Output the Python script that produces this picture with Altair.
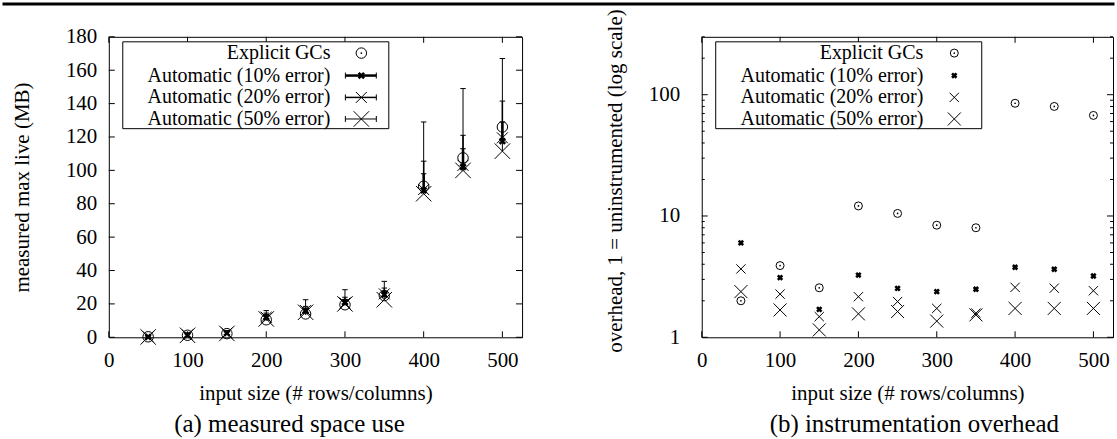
import altair as alt
import pandas as pd

# ---------------- data ----------------
sizes = [50, 100, 150, 200, 250, 300, 350, 400, 450, 500]
x_tick_values = [0, 100, 200, 300, 400, 500]
space_tick_values = [0, 20, 40, 60, 80, 100, 120, 140, 160, 180]
overhead_tick_values = [1, 10, 100]
overhead_minor_values = [2, 3, 4, 5, 6, 7, 8, 9, 20, 30, 40, 50, 60, 70, 80, 90, 200, 300]

series_names = ["Explicit GCs", "Automatic (10% error)", "Automatic (20% error)", "Automatic (50% error)"]

# (a) measured max live (MB)
space_explicit = [0.3, 1.2, 2.2, 10.5, 14.0, 19.5, 25.0, 90.5, 107.5, 126.0]
space_auto10 = [0.3, 1.3, 2.5, 12.0, 16.0, 21.0, 25.5, 88.0, 102.0, 117.5]
space_auto10_top = [0.6, 1.8, 3.2, 13.0, 17.0, 22.5, 27.5, 98.0, 113.0, 129.0]
space_auto20 = [0.3, 1.3, 2.5, 12.0, 16.0, 20.5, 26.0, 88.5, 103.0, 119.5]
space_auto20_top = [0.8, 2.0, 3.5, 14.5, 18.5, 24.0, 29.5, 105.5, 121.0, 141.5]
space_auto50 = [0.2, 1.2, 2.3, 11.0, 15.0, 20.0, 22.5, 86.0, 100.0, 111.5]
space_auto50_top = [1.0, 2.5, 4.0, 16.0, 22.5, 28.5, 33.5, 129.0, 149.0, 167.0]

# (b) instrumentation overhead (log scale)
over_explicit = [2.0, 3.9, 2.56, 12.1, 10.5, 8.4, 8.0, 85.0, 80.0, 67.5]
over_auto10 = [6.0, 3.1, 1.70, 3.26, 2.53, 2.38, 2.49, 3.78, 3.64, 3.2]
over_auto20 = [3.66, 2.27, 1.48, 2.16, 1.97, 1.73, 1.58, 2.58, 2.54, 2.42]
over_auto50 = [2.38, 1.68, 1.15, 1.56, 1.63, 1.36, 1.53, 1.73, 1.73, 1.73]

FONT = "Liberation Serif"
XSHAPE = "M-1,-1L1,1M-1,1L1,-1"
HCAP = "M-1,0L1,0"
one = pd.DataFrame({"k": [0]})


def make_panel(W, H, yscale, y_title, y_ticks, y_minor, explicit, autos, tops,
               msize, label_pad_y, title_x, title_y, caption, cap_x, legend_bars, top_rule):
    xscale = alt.Scale(domain=[0, 525], nice=False, zero=False)
    xaxis = alt.Axis(values=x_tick_values, title="input size (# rows/columns)",
                     titleY=56, titleBaseline="middle", labelPadding=12, format="d")
    yaxis = alt.Axis(values=y_ticks, title=y_title, titleX=title_x, titleY=title_y,
                     titleBaseline="middle", labelPadding=label_pad_y, format="d")

    def X(f="x"):
        return alt.X(f"{f}:Q", scale=xscale, axis=xaxis)

    def Y(f="y"):
        return alt.Y(f"{f}:Q", scale=yscale, axis=yaxis)

    layers = []
    # inward ticks
    xt = pd.DataFrame({"x": x_tick_values})
    yt = pd.DataFrame({"y": y_ticks})
    layers.append(alt.Chart(xt).mark_rule(color="black").encode(x=X(), y=alt.value(H), y2=alt.value(H - 6)))
    layers.append(alt.Chart(xt).mark_rule(color="black").encode(x=X(), y=alt.value(0), y2=alt.value(6)))
    layers.append(alt.Chart(yt).mark_rule(color="black").encode(y=Y(), x=alt.value(0), x2=alt.value(6)))
    layers.append(alt.Chart(yt).mark_rule(color="black").encode(y=Y(), x=alt.value(W), x2=alt.value(W - 6)))
    if y_minor:
        ym = pd.DataFrame({"y": y_minor})
        layers.append(alt.Chart(ym).mark_rule(color="black").encode(y=Y(), x=alt.value(0), x2=alt.value(3)))
        layers.append(alt.Chart(ym).mark_rule(color="black").encode(y=Y(), x=alt.value(W), x2=alt.value(W - 3)))

    # error bars
    bar_widths = [2.5, 1.5, 1.0]
    if tops is not None:
        for vals, top, sw in zip(autos, tops, bar_widths):
            d = pd.DataFrame({"x": sizes, "y": vals, "hi": top})
            layers.append(alt.Chart(d).mark_rule(color="black", strokeWidth=sw).encode(x=X(), y=Y(), y2="hi:Q"))
            layers.append(alt.Chart(d).mark_point(shape=HCAP, size=30, strokeWidth=1, color="black",
                                                  opacity=1).encode(x=X(), y=Y("hi")))

    # markers
    de = pd.DataFrame({"x": sizes, "y": explicit})
    layers.append(alt.Chart(de).mark_point(shape="circle", size=msize["circle"], strokeWidth=1,
                                           color="black", opacity=1).encode(x=X(), y=Y()))
    layers.append(alt.Chart(de).mark_point(shape="circle", size=3, filled=True,
                                           color="black", opacity=1).encode(x=X(), y=Y()))
    shape_cfg = [("star", 2.6), ("mid", 1.0), ("big", 1.0)]
    for vals, (key, sw) in zip(autos, shape_cfg):
        d = pd.DataFrame({"x": sizes, "y": vals})
        layers.append(alt.Chart(d).mark_point(shape=XSHAPE, size=msize[key], strokeWidth=sw,
                                              color="black", opacity=1).encode(x=X(), y=Y()))

    # legend
    layers.append(alt.Chart(one).mark_rect(fill="white", stroke="black", strokeWidth=1).encode(
        x=alt.value(14), x2=alt.value(280.5), y=alt.value(5), y2=alt.value(92)))
    rows = [16.3, 38.8, 60.7, 82.3]
    sx = 253
    for i, (name, ry) in enumerate(zip(series_names, rows)):
        layers.append(alt.Chart(one).mark_text(align="right", baseline="middle", font=FONT, fontSize=20,
                                               color="black").encode(
            x=alt.value(222), y=alt.value(ry), text=alt.value(name)))
        if i == 0:
            layers.append(alt.Chart(one).mark_point(shape="circle", size=msize["circle"], strokeWidth=1,
                                                    color="black", opacity=1).encode(x=alt.value(sx), y=alt.value(ry)))
            layers.append(alt.Chart(one).mark_point(shape="circle", size=3, filled=True,
                                                    color="black", opacity=1).encode(x=alt.value(sx), y=alt.value(ry)))
        else:
            key, sw = shape_cfg[i - 1]
            if legend_bars:
                bw = bar_widths[i - 1]
                layers.append(alt.Chart(one).mark_rule(color="black", strokeWidth=bw).encode(
                    x=alt.value(sx - 16), x2=alt.value(sx + 15), y=alt.value(ry)))
                for cx in (sx - 16, sx + 15):
                    layers.append(alt.Chart(one).mark_rule(color="black", strokeWidth=1).encode(
                        x=alt.value(cx), y=alt.value(ry - 3), y2=alt.value(ry + 3)))
            layers.append(alt.Chart(one).mark_point(shape=XSHAPE, size=msize[key], strokeWidth=sw,
                                                    color="black", opacity=1).encode(x=alt.value(sx), y=alt.value(ry)))

    # caption
    layers.append(alt.Chart(one).mark_text(align="center", baseline="middle", font=FONT, fontSize=25,
                                           color="black").encode(
        x=alt.value(cap_x), y=alt.value(388), text=alt.value(caption)))

    if top_rule:
        layers.append(alt.Chart(one).mark_rule(color="black", strokeWidth=3).encode(
            x=alt.value(-106.5), x2=alt.value(1007.5), y=alt.value(-33)))

    return alt.layer(*layers).properties(width=W, height=H)


left = make_panel(
    414, 301, alt.Scale(domain=[0, 180], nice=False, zero=False), "measured max live (MB)",
    space_tick_values, None, space_explicit,
    [space_auto10, space_auto20, space_auto50],
    [space_auto10_top, space_auto20_top, space_auto50_top],
    {"circle": 110, "star": 30, "mid": 121, "big": 240},
    12, -86.6, 150.5, "(a) measured space use", 181, True, True)

right = make_panel(
    412, 301, alt.Scale(type="log", domain=[1, 300], nice=False), "overhead, 1 = uninstrumented (log scale)",
    overhead_tick_values, overhead_minor_values, over_explicit,
    [over_auto10, over_auto20, over_auto50], None,
    {"circle": 64, "star": 20, "mid": 86, "big": 170},
    22, -86, 144, "(b) instrumentation overhead", 213, False, False)

chart = alt.hconcat(left, right, spacing=180, bounds="flush").properties(
    padding={"left": 0, "top": 1.5, "right": 0, "bottom": 0},
    background="white",
).configure_view(stroke="black", strokeWidth=1).configure_axis(
    labelFont=FONT, labelFontSize=21, labelColor="black", labelFlush=False,
    titleFont=FONT, titleFontSize=21, titleFontWeight="normal", titleColor="black",
    ticks=False, tickSize=0, domain=False, grid=False,
)

chart.save("out.html", embed_options={"renderer": "svg", "actions": False})
